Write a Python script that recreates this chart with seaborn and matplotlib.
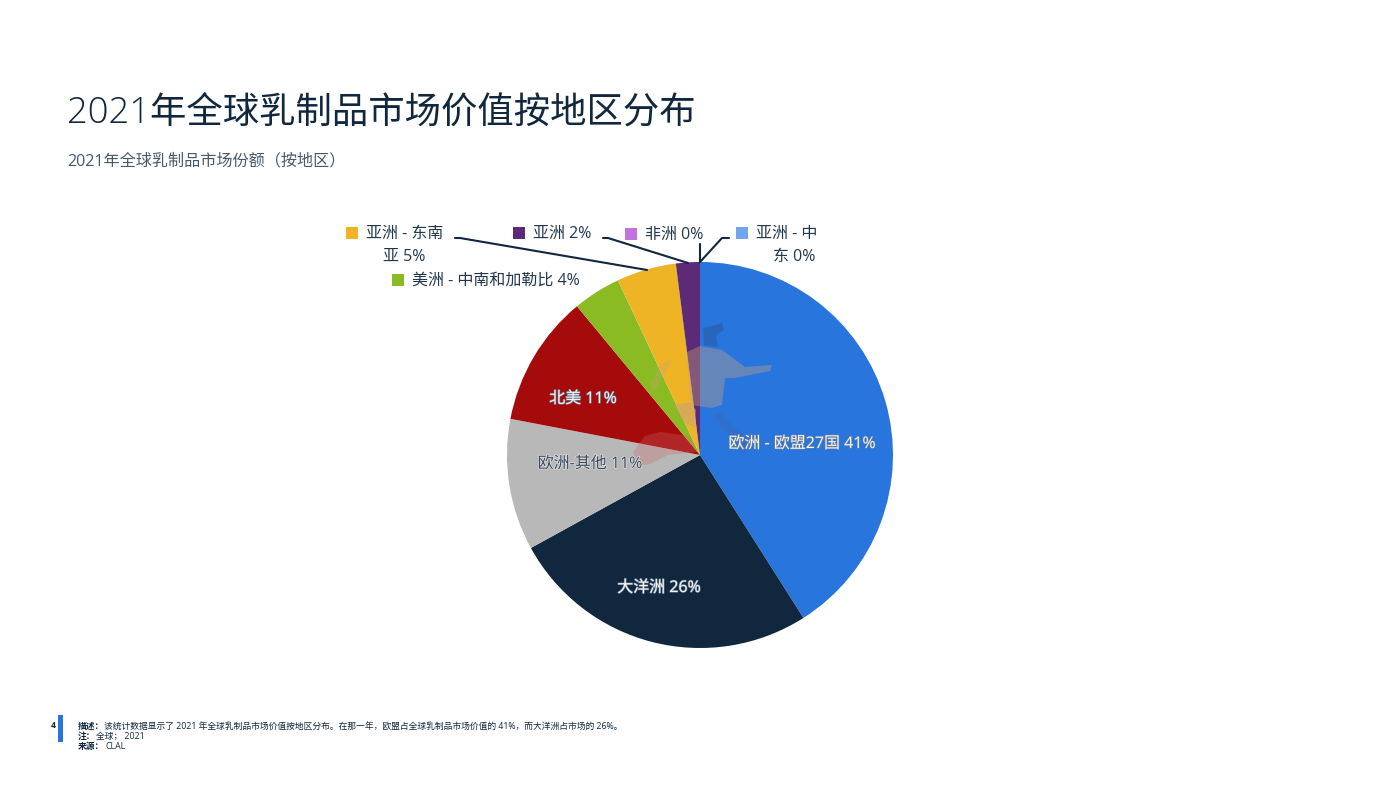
#!/usr/bin/env python3
"""Global dairy market value share by region, 2021."""

import matplotlib.patheffects as pe
import matplotlib.pyplot as plt
import seaborn as sns

regions = ["欧洲 - 欧盟27国", "大洋洲", "欧洲-其他", "北美", "美洲 - 中南和加勒比",
           "亚洲 - 东南亚", "亚洲", "非洲", "亚洲 - 中东"]
shares = [41, 26, 11, 11, 4, 5, 2, 0, 0]
region_colors = ["#2975de", "#10273d", "#b8b8b8", "#a50b0b", "#8abb22",
                 "#eeb425", "#5c2a77", "#c273dd", "#71a5ee"]

title = "2021年全球乳制品市场价值按地区分布"
subtitle = "2021年全球乳制品市场份额（按地区）"
note_heads = ["描述：", "注：", "来源："]
note_bodies = ["该统计数据显示了 2021 年全球乳制品市场价值按地区分布。在那一年，欧盟占全球乳制品市场价值的 41%，而大洋洲占市场的 26%。",
               "全球； 2021", "CLAL"]

W, H = 1400, 788
NAVY = "#10273d"
FONT = ["Open Sans", "Noto Sans CJK SC", "DejaVu Sans"]

sns.set_theme(style="white")
plt.rcParams["font.family"] = FONT

fig = plt.figure(figsize=(W / 100, H / 100), dpi=100, facecolor="white")

# pie axes: centre (700, 455), radius 193 px
ax = fig.add_axes([507 / W, 1 - 648 / H, 386 / W, 386 / H])
palette = sns.color_palette(region_colors)
ax.pie(shares, colors=palette, startangle=90, counterclock=False, radius=1,
       wedgeprops={"linewidth": 0})
ax.set_xlim(-1, 1)
ax.set_ylim(-1, 1)

# overlay in pixel coordinates for the text and the leader lines
ov = fig.add_axes([0, 0, 1, 1], facecolor="none")
ov.set_xlim(0, W)
ov.set_ylim(H, 0)
ov.axis("off")

# faint watermark figure behind the labels
figure_parts = [
    ([687, 700, 722, 745, 772, 770, 735, 725, 722, 712, 690], [352, 346, 350, 367, 365, 371, 378, 378, 405, 408, 405], "#c9a27c", 0.38),
    ([703, 722, 724, 716, 718, 704], [328, 323, 330, 335, 347, 345], "#2a62b0", 0.75),
    ([713, 722, 748, 745, 738], [414, 413, 440, 458, 450], "#3a6bc0", 0.5),
    ([650, 660, 673, 665, 654], [385, 365, 358, 372, 392], "#c9a27c", 0.3),
    ([674, 690, 696, 695, 684], [405, 402, 410, 428, 422], "#c9a27c", 0.55),
    ([633, 645, 660, 690, 697, 668, 650, 638], [452, 436, 432, 436, 452, 455, 464, 466], "#c66", 0.3),
]
for xs, ys, part_color, part_alpha in figure_parts:
    ov.fill(xs, ys, color=part_color, alpha=part_alpha, lw=0)

ov.text(67, 114, title, fontsize=26.2, color=NAVY, va="center", fontweight="light")
ov.text(67, 161, subtitle, fontsize=11.6, color="#46596d", va="center")

halo = [pe.withStroke(linewidth=0.9, foreground="#6d7f93")]
inside = [(0, 802, 444), (1, 659, 588), (3, 583, 399)]
for i, x, y in inside:
    ov.text(x, y, f"{regions[i]} {shares[i]}%", fontsize=11.5, color="#f4f6fa",
            ha="center", va="center", path_effects=halo)
ov.text(590, 464, f"{regions[2]} {shares[2]}%", fontsize=11.5, color="#34465a", ha="center",
        va="center", path_effects=[pe.withStroke(linewidth=0.9, foreground="#e8e8e8")])


def outside_label(i, sq_x, sq_y, line1, line2=None, line2_x=None):
    ov.scatter([sq_x], [sq_y], marker="s", s=85, color=region_colors[i], linewidths=0)
    ov.text(sq_x + 14, sq_y + 1, line1, fontsize=11.5, color="#23384e", va="center")
    if line2:
        ov.text(line2_x, sq_y + 24, line2, fontsize=11.5, color="#23384e", va="center", ha="center")


outside_label(5, 352, 233, "亚洲 - 东南", "亚 5%", 404)
outside_label(6, 519, 233, f"亚洲 {shares[6]}%")
outside_label(7, 631, 234, f"非洲 {shares[7]}%")
outside_label(8, 742, 233, "亚洲 - 中", "东 0%", 794)
outside_label(4, 398, 280, f"美洲 - 中南和加勒比 {shares[4]}%")

leaders = [([455, 460, 647], [238, 238, 270]),
           ([603, 608, 688], [238, 238, 263]),
           ([700, 700], [244, 262]),
           ([729, 722, 700], [238, 238, 262])]
for xs, ys in leaders:
    ov.plot(xs, ys, color=NAVY, lw=1.5, solid_capstyle="round")

# footer
ov.text(53, 725, "4", fontsize=6.3, color=NAVY, va="center", ha="center", fontweight="bold")
ov.add_patch(plt.Rectangle((58, 715), 5, 27, color="#2975de", lw=0))
for y, head, body, body_x in zip([726, 736.5, 746.5], note_heads, note_bodies, [104, 96, 106]):
    ov.text(78, y, head, fontsize=6.3, color=NAVY, va="center", fontweight="bold")
    ov.text(body_x, y, body, fontsize=6.3, color=NAVY, va="center")

fig.savefig("out.png", dpi=100)
